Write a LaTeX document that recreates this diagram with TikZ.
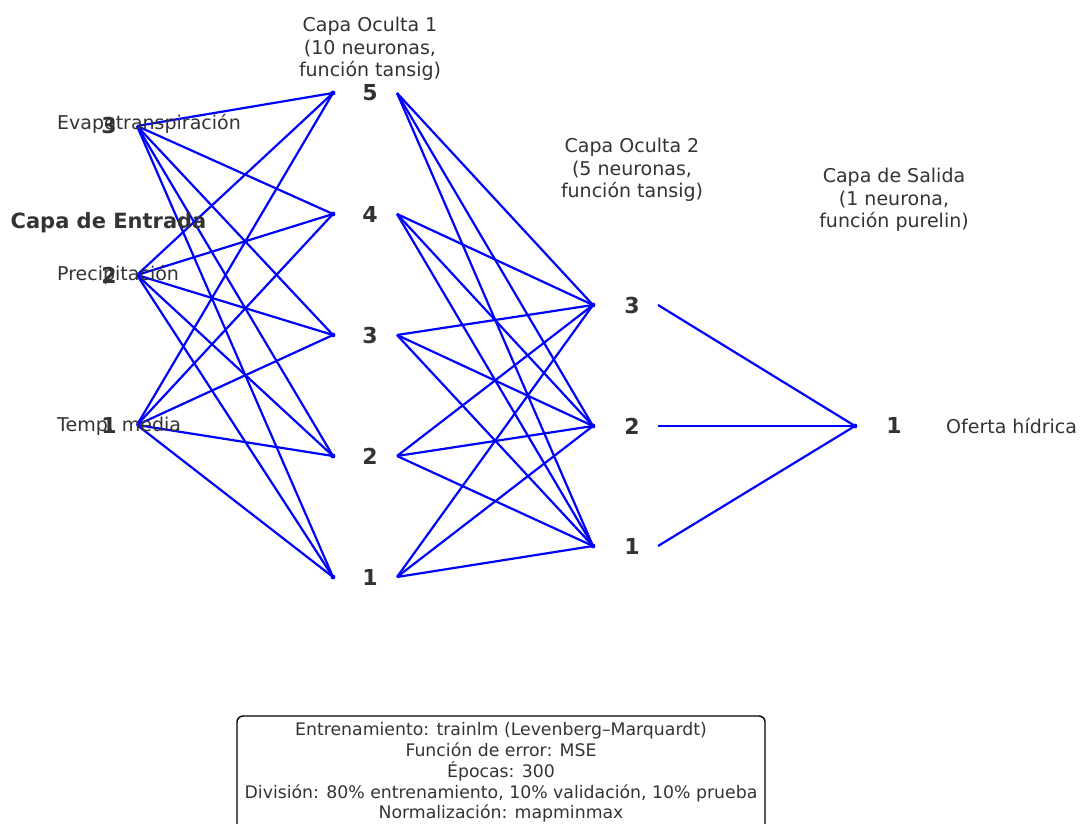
\documentclass[tikz,border=0pt]{standalone}
\usepackage{fontspec}
\setmainfont{DejaVu Sans}
\usetikzlibrary{backgrounds}
\definecolor{txt}{HTML}{333333}
\begin{document}
\begin{tikzpicture}[x=1pt,y=-1pt,
  conn/.style={draw=blue, line width=2.2pt},
  joint/.style={fill=blue},
  lbl/.style={text=txt, inner sep=0pt, font=\fontsize{19}{22.6}\selectfont, align=center},
  num/.style={text=txt, inner sep=0pt, font=\bfseries\fontsize{22}{26}\selectfont},
  head/.style={text=txt, inner sep=0pt, font=\bfseries\fontsize{21}{25}\selectfont},
  infotext/.style={text=txt, inner sep=0pt, font=\fontsize{17.3}{20.75}\selectfont, align=center},
  infobox/.style={draw=black, line width=1.4pt, rounded corners=6pt}]
\useasboundingbox (0,0) rectangle (1082,824);
\clip (0,0) rectangle (1082,824);

% input layer
\foreach \n/\y in {1/425,2/275,3/126} {
  \coordinate (in\n-o) at (137,\y);
}
\node[lbl, anchor=west] (tin3) at (57,124) {Evapotranspiración};
\node[lbl, anchor=west] (tin2) at (57,275) {Precipitación};
\node[lbl, anchor=west] (tin1) at (57,426) {Temp. media};
\foreach \n/\y in {1/425,2/275,3/125} {
  \node[num] (in\n) at (109,\y) {\n};
}
\node[head] (capin) at (108.5,223) {Capa de Entrada};

% hidden layer 1
\foreach \n/\y in {1/577,2/456,3/335,4/214,5/93} {
  \coordinate (h1n\n-i) at (333,\y);
  \coordinate (h1n\n-o) at (397,\y);
  \node[num] (h1n\n) at (370,\y) {\n};
}
\node[lbl] (caph1) at (370,49) {Capa Oculta 1\\(10 neuronas,\\función tansig)};

% hidden layer 2
\foreach \n/\y in {1/546,2/426,3/305} {
  \coordinate (h2n\n-i) at (593,\y);
  \coordinate (h2n\n-o) at (658,\y);
  \node[num] (h2n\n) at (632,\y) {\n};
}
\node[lbl] (caph2) at (632,170) {Capa Oculta 2\\(5 neuronas,\\función tansig)};

% output layer
\coordinate (out1-i) at (855,426);
\node[num] (out1) at (894,425) {1};
\node[lbl, anchor=west] (tout1) at (946,426) {Oferta hídrica};
\node[lbl] (capout) at (894,200) {Capa de Salida\\(1 neurona,\\función purelin)};

% connections
\begin{scope}[on background layer]
  \foreach \a in {1,2,3} {
    \foreach \b in {1,...,5} {
      \draw[conn] (in\a-o) -- (h1n\b-i);
    }
  }
  \foreach \a in {1,...,5} {
    \foreach \b in {1,2,3} {
      \draw[conn] (h1n\a-o) -- (h2n\b-i);
    }
  }
  \foreach \a in {1,2,3} {
    \draw[conn] (h2n\a-o) -- (out1-i);
  }
  \foreach \p in {h1n1-i,h1n2-i,h1n3-i,h1n4-i,h1n5-i,h2n1-i,h2n2-i,h2n3-i,out1-i} {
    \fill[joint] (\p) circle (2.4pt);
  }
\end{scope}

% training settings
\draw[infobox] (237,716) rectangle (765,834);
\node[infotext] (info) at (501,772.5) {Entrenamiento: trainlm (Levenberg–Marquardt)\\Función de error: MSE\\Épocas: 300\\División: 80\% entrenamiento, 10\% validación, 10\% prueba\\Normalización: mapminmax};
\end{tikzpicture}
\end{document}
